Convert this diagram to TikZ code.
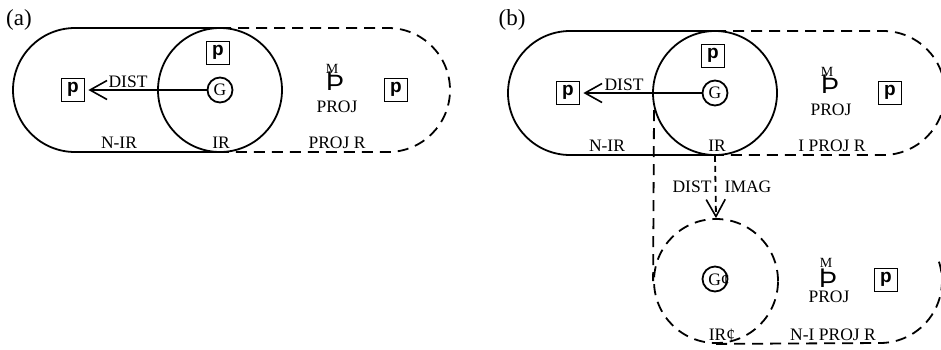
\documentclass[tikz,border=0pt]{standalone}
\usepackage{fontspec}
\setmainfont{Liberation Serif}
\setsansfont{Liberation Sans}
\usetikzlibrary{arrows.meta}
\begin{document}
\begin{tikzpicture}[x=1pt,y=-1pt,line width=1.8pt,
  lbl/.style={font=\fontsize{17.5}{19}\selectfont,inner sep=0,anchor=base},
  panel/.style={font=\fontsize{23}{24}\selectfont,inner sep=0,anchor=base},
  mlbl/.style={font=\fontsize{14}{15}\selectfont,inner sep=0,anchor=base},
  thorn/.style={font=\sffamily\fontsize{27}{28}\selectfont,inner sep=0,anchor=base},
  pbox/.style={draw,minimum size=23pt,inner sep=0,font=\sffamily\bfseries\fontsize{19}{19}\selectfont,text height=9pt,text depth=3.2pt},
  gcirc/.style={draw,circle,minimum size=25pt,inner sep=0,font=\fontsize{17.5}{19}\selectfont},
  region/.style={draw,circle,minimum size=124pt,inner sep=0},
  dsh/.style={dash pattern=on 11pt off 7pt},
  fdsh/.style={dash pattern=on 6pt off 4pt},
  barb/.style={-{Straight Barb[length=17pt,width=19pt,line width=1.6pt]}}
]
\useasboundingbox (0,0) rectangle (941,349);
\clip (0,0) rectangle (941,349);

% ---------------- (a) ----------------
\node[panel] (la) at (19,25) {(a)};
\draw (220,28) -- (75,28) arc (270:90:62) -- (220,152);
\draw[dsh] (220,28) -- (388,28) arc (-90:90:62) -- (220,152);
\node[region] (ira) at (220,90) {};
\node[gcirc] (ga) at (220,90) {G};
\node[pbox] (pta) at (218,53) {p};
\node[pbox] (pla) at (73,90) {p};
\node[pbox] (pra) at (396,90) {p};
\draw[barb] (ga.west) -- ([xshift=3pt]pla.east);
\node[lbl] (dista) at (128,87) {DIST};
\node[mlbl] (ma) at (332,73) {M};
\node[thorn] (tha) at (335,90) {Þ};
\node[lbl] (proja) at (337,112) {PROJ};
\node[lbl] (nira) at (119,148) {N-IR};
\node[lbl] (irla) at (221,148) {IR};
\node[lbl] (projra) at (337,148) {PROJ R};

% ---------------- (b) ----------------
\node[panel] (lb) at (512,25) {(b)};
\draw (715,31) -- (570,31) arc (270:90:62) -- (715,155);
\draw[dsh] (715,31) -- (883,31) arc (-90:90:62) -- (715,155);
\node[region] (irb) at (715,93) {};
\node[gcirc] (gb) at (715,93) {G};
\node[pbox] (ptb) at (713,56) {p};
\node[pbox] (plb) at (568,93) {p};
\node[pbox] (prb) at (890,93) {p};
\draw[barb] (gb.west) -- ([xshift=3pt]plb.east);
\node[lbl] (distb) at (624,90) {DIST};
\node[mlbl] (mb) at (827,76) {M};
\node[thorn] (thb) at (830,93) {Þ};
\node[lbl] (projb) at (831,115) {PROJ};
\node[lbl] (nirb) at (607,151) {N-IR};
\node[lbl] (irlb) at (717,151) {IR};
\node[lbl] (iprojrb) at (832,151) {I PROJ R};

% lower part of (b)
\node[region,dsh] (irc) at (716,281) {};
\coordinate (vtop) at (654,110);
\draw[dsh] (vtop) -- (irc.west);
\draw[dsh] (irc.south) -- (880,343) arc (90:-20:62);
\draw[barb,fdsh] (irb.south) -- (irc.north);
\node[lbl] (distc) at (692,192) {DIST};
\node[lbl] (imagc) at (748,192) {IMAG};
\node[gcirc] (gc) at (715,279) {};
\node[lbl,anchor=center] (gctext) at (719,280) {G¢};
\node[mlbl] (mc) at (826,267) {M};
\node[thorn] (thc) at (828,287) {Þ};
\node[lbl] (projc) at (829,302) {PROJ};
\node[pbox] (pc) at (886,280) {p};
\node[lbl] (irlc) at (722,340) {IR¢};
\node[lbl] (niprojrc) at (833,340) {N-I PROJ R};
\end{tikzpicture}
\end{document}
